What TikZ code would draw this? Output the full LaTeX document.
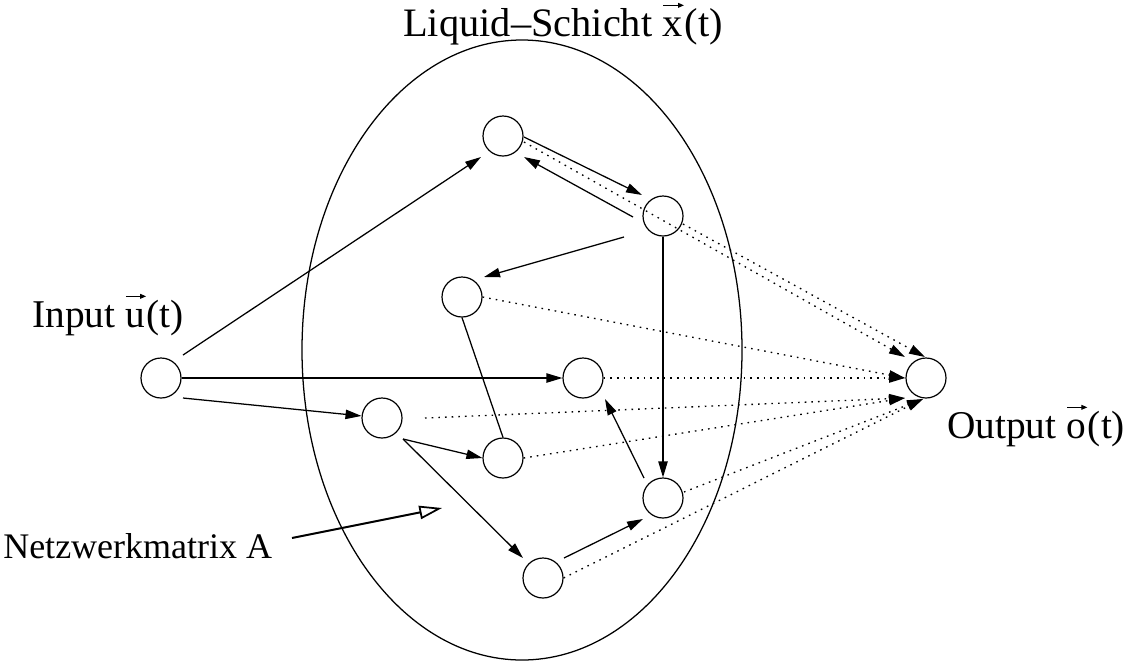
\documentclass[tikz,border=0pt]{standalone}
\usepackage{fontspec}
\setmainfont{Liberation Serif}
\usetikzlibrary{arrows.meta,shapes.geometric}
\newcommand\vecl[1]{\tikz[baseline=(v.base),x=1pt,y=1pt]{\node[inner sep=0pt,outer sep=0pt] (v) {#1};
  \draw[line width=0.8pt,-{Triangle[length=4.5pt,width=3.6pt]}] ([xshift=0.5pt,yshift=23pt]v.base west) -- ([xshift=1pt,yshift=23pt]v.base east);}}
\begin{document}
\begin{tikzpicture}[x=0.75pt,y=-0.75pt,
  neuron/.style={circle,draw,line width=0.9pt,minimum size=30pt,inner sep=0pt},
  arr/.style={line width=0.95pt,-{Triangle[length=12pt,width=7pt]}},
  plain/.style={line width=0.95pt},
  dotarr/.style={line width=1pt,dash pattern=on 1.2pt off 3.8pt,-{Triangle[length=12pt,width=7pt]}},
  lbl/.style={inner sep=0pt,anchor=base west,font=\fontsize{29.5}{34}\selectfont}]
\useasboundingbox (0,0) rectangle (1134,662);
% liquid layer
\node[ellipse,draw,line width=0.95pt,minimum width=330pt,minimum height=465pt,inner sep=0pt] (L) at (522,350) {};
% neurons
\node[neuron] (I) at (161,378) {};
\node[neuron] (O) at (926,378) {};
\node[neuron] (N1) at (503,136) {};
\node[neuron] (N2) at (663,216) {};
\node[neuron] (N3) at (462,297) {};
\node[neuron] (N4) at (583,378) {};
\node[neuron] (N5) at (382,418) {};
\node[neuron] (N6) at (503,458) {};
\node[neuron] (N7) at (663,498) {};
\node[neuron] (N8) at (543,578) {};
% labels
\node[lbl,font=\fontsize{30.3}{35}\selectfont] (tL) at (403,36) {Liquid–Schicht \vecl{x}(t)};
\node[lbl] (tI) at (32,327) {Input \vecl{u}(t)};
\node[lbl] (tO) at (947,438) {Output \vecl{o}(t)};
\node[lbl,font=\fontsize{27}{32}\selectfont] (tA) at (3,558) {Netzwerkmatrix A};
% solid connections
\draw[arr] ([shift={(22,-23)}]I.center) -- ([shift={(-22,21)}]N1.center);
\draw[arr] (I) -- (N4);
\draw[arr] ([shift={(22,20)}]I.center) -- (N5);
\draw[arr] ([shift={(21,1)}]N1.center) -- ([shift={(-21,-21)}]N2.center);
\draw[arr] ([shift={(-30,1)}]N2.center) -- ([shift={(21,21)}]N1.center);
\draw[arr] ([shift={(-39,21)}]N2.center) -- ([shift={(22,-20)}]N3.center);
\draw[arr] (N2) -- (N7);
\draw[plain] (N3.south) -- (N6.north);
\draw[arr] ([shift={(21,21)}]N5.center) -- (N6.west);
\draw[arr] ([shift={(21,21)}]N5.center) -- ([shift={(-20,-20)}]N8.center);
\draw[arr] ([shift={(21,-20)}]N8.center) -- ([shift={(-20,21)}]N7.center);
\draw[arr] ([shift={(-19,-20)}]N7.center) -- ([shift={(22,21)}]N4.center);
% readout targets
\coordinate (T1) at ([shift={(-21,-21)}]O.center);
\coordinate (T2) at ([shift={(-1,-21)}]O.center);
\coordinate (T3) at ([shift={(-21,0)}]O.center);
\coordinate (T4) at ([shift={(-21,20)}]O.center);
\coordinate (T5) at ([shift={(-3,21)}]O.center);
% dotted readout
\draw[dotarr] ([shift={(21,6)}]N1.center) -- (T1);
\draw[dotarr] ([shift={(20,8)}]N2.center) -- (T2);
\draw[dotarr] (N3.east) -- (T3);
\draw[dotarr] (N4.east) -- (T3);
\draw[dotarr] ([shift={(43,0)}]N5.center) -- (T4);
\draw[dotarr] (N6.east) -- (T4);
\draw[dotarr] ([shift={(21,-6)}]N7.center) -- (T5);
\draw[dotarr] (N8.east) -- (T5);
% annotation arrow
\coordinate (aS) at (292,538);
\coordinate (aE) at (442,508);
\draw[line width=1.5pt,-{Triangle[open,length=17pt,width=10pt,line width=1.3pt]}] (aS) -- (aE);
\end{tikzpicture}
\end{document}
